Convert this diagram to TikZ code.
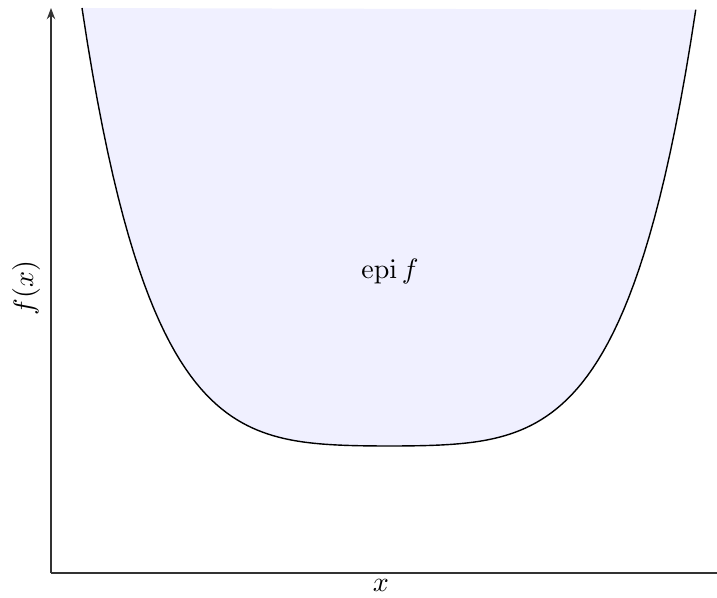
\documentclass[tikz,border=0pt]{standalone}
\usepackage{amsmath}
\usetikzlibrary{arrows.meta}

\begin{document}
\begin{tikzpicture}[x=0.01255cm, y=0.01255cm,
    declare function={epi(\t)=152+438*(0.06*(\t)^2+0.74*(\t)^4+0.2*(\t)^8);},
    axisline/.style={black!80, line width=0.5pt}]
        \useasboundingbox (0,0) rectangle (717,598);

        % Epigraph region
        \fill[blue!6] plot[domain=-1:1, samples=120] ({389+307*\x}, {epi(\x)}) -- cycle;
        \draw[black, line width=0.5pt] plot[domain=-1:1, samples=120] ({389+307*\x}, {epi(\x)});

        % Axes
        \coordinate (O) at (51,25);
        \coordinate (xend) at (717,25);
        \coordinate (yend) at (51,590);
        \draw[axisline] (O) -- (xend);
        \draw[axisline, -{Stealth[length=4pt, width=3pt]}] (O) -- (yend);

        % Labels
        \node (xlab) at (381,13) {$x$};
        \node[rotate=90] (ylab) at (26,310) {$f(x)$};
        \node (epilab) at (390,326) {$\operatorname{epi} f$};
    \end{tikzpicture}
\end{document}
